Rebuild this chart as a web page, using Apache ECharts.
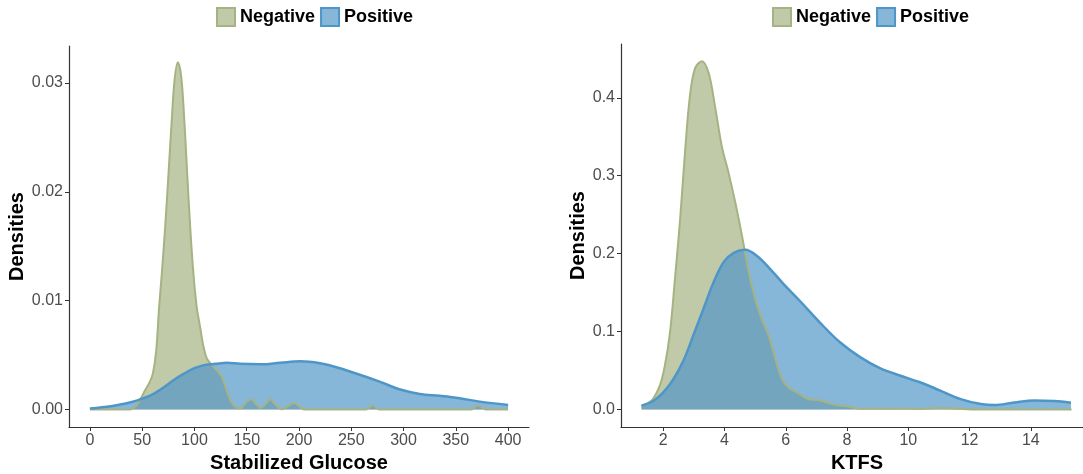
<!DOCTYPE html>
<html>
<head>
<meta charset="utf-8">
<script src="https://cdn.jsdelivr.net/npm/echarts@6/dist/echarts.min.js"></script>
<style>
html,body{margin:0;padding:0;background:#fff;overflow:hidden;}
#chart{width:1083px;height:474px;}
</style>
</head>
<body>
<div id="chart"></div>
<script>
// ---- Data ----
const seriesNames = ['Negative', 'Positive'];

// Left panel: Stabilized Glucose densities
const glucoseNegX = [0,38,44,48,52.9,57,60.2,63.4,66.2,68.8,72,75.2,78.3,80.9,84.1,87.3,90.1,92.7,95.9,99,102.2,105.4,108.6,111.8,116.6,121.3,126.1,131,135.7,143.7,149,154.2,159,163.4,168,172.3,177,183.5,189,195.2,200,205.7,264,270.3,277,364.5,371.2,379,400];
const glucoseNegD = [0,0,0.0003,0.0009,0.0018,0.0025,0.0033,0.0054,0.0094,0.0125,0.0168,0.0217,0.0266,0.0302,0.0319,0.0306,0.0269,0.0223,0.0168,0.0125,0.0094,0.0076,0.0058,0.0047,0.0041,0.0036,0.003,0.0017,0.0006,0.0001,0.0006,0.00095,0.0005,0.00015,0.0005,0.00095,0.0005,0.00003,0.0003,0.0006,0.0003,0,0,0.00037,0,0,0.00037,0,0];
const glucosePosX = [0,20,40,50,60,70,80,90,100,110,120,131,143.6,163,182,201,220,239,258,277,296,315.5,334.6,353.7,372.8,400];
const glucosePosD = [0.0001,0.0003,0.0007,0.001,0.0014,0.002,0.0027,0.0033,0.0038,0.0041,0.0042,0.0043,0.0042,0.00416,0.0043,0.00443,0.00425,0.0038,0.0032,0.00257,0.00187,0.00144,0.00126,0.00104,0.00073,0.00043];

// Right panel: KTFS densities
const ktfsNegX = [1.29,1.5,1.67,1.89,2.05,2.22,2.38,2.55,2.71,2.87,3.04,3.26,3.48,3.69,3.91,4.13,4.35,4.57,4.79,5.0,5.22,5.44,5.66,5.88,6.1,6.37,6.7,7.13,7.56,8.0,8.44,8.87,9.3,9.75,10.4,11.06,11.71,12.37,15.33];
const ktfsNegD = [0.004,0.008,0.014,0.031,0.056,0.099,0.167,0.244,0.33,0.402,0.438,0.447,0.432,0.389,0.338,0.304,0.266,0.223,0.176,0.142,0.116,0.095,0.065,0.039,0.028,0.022,0.014,0.0117,0.0064,0.0043,0.001,0.0015,0.001,0.0015,0.0008,0.002,0.001,0,0];
const ktfsPosX = [1.29,1.67,2.0,2.33,2.66,2.98,3.31,3.64,3.97,4.3,4.68,5.06,5.5,5.93,6.47,7.13,7.78,8.44,9.09,9.75,10.4,11.06,11.71,12.37,12.8,13.46,14.11,14.77,15.31];
const ktfsPosD = [0.005,0.011,0.022,0.039,0.063,0.095,0.129,0.163,0.189,0.201,0.205,0.197,0.18,0.161,0.139,0.111,0.086,0.067,0.0528,0.0434,0.0348,0.0241,0.0135,0.0071,0.0058,0.0092,0.0118,0.0109,0.0088];

// Tick labels
const glucoseTicks = [0,50,100,150,200,250,300,350,400];
const ktfsTicks = [2,4,6,8,10,12,14];
const densityTicksLeft = [0,0.01,0.02,0.03];
const densityTicksRight = [0,0.1,0.2,0.3,0.4];

// Axis titles
const xTitles = ['Stabilized Glucose', 'KTFS'];
const yTitle = 'Densities';

// ---- Styles ----
const FONT = '"Liberation Sans", Arial, Helvetica, sans-serif';
const negLine = '#a5b383', negFill = 'rgba(165,179,131,0.7)';
const posLine = '#4f96c8', posFill = 'rgba(82,151,199,0.7)';
const axisColor = '#333333', labelColor = '#4d4d4d';

function pairs(xs, ys){ return xs.map((x,i)=>[x, ys[i]]); }

function xAxisCfg(gridIndex, min, max, ticks, title){
  return {
    type:'value', gridIndex, min, max,
    axisLine:{show:true, onZero:false, lineStyle:{color:axisColor, width:1.2}},
    axisTick:{show:true, length:4, lineStyle:{color:axisColor, width:1}, customValues:ticks},
    axisLabel:{color:labelColor, fontSize:16, fontFamily:FONT, margin:6, customValues:ticks,
               formatter:v=>String(v)},
    splitLine:{show:false},
    name:title, nameLocation:'middle', nameGap:24,
    nameTextStyle:{color:'#000', fontSize:20, fontWeight:'bold', fontFamily:FONT}
  };
}
function yAxisCfg(gridIndex, min, max, ticks, digits, gap){
  return {
    type:'value', gridIndex, min, max,
    axisLine:{show:true, onZero:false, lineStyle:{color:axisColor, width:1.2}},
    axisTick:{show:true, length:4, lineStyle:{color:axisColor, width:1}, customValues:ticks},
    axisLabel:{color:labelColor, fontSize:16, fontFamily:FONT, margin:6, customValues:ticks,
               formatter:v=>Number(v).toFixed(digits)},
    splitLine:{show:false},
    name:yTitle, nameLocation:'middle', nameGap:gap, nameRotate:90,
    nameTextStyle:{color:'#000', fontSize:20, fontWeight:'bold', fontFamily:FONT}
  };
}
function seriesCfg(name, idx, data, line, fill, w){
  return {
    name, type:'line', xAxisIndex:idx, yAxisIndex:idx, data,
    smooth:0.35, showSymbol:false, symbol:'none',
    lineStyle:{color:line, width:w},
    itemStyle:{color:line},
    areaStyle:{color:fill, opacity:1},
    silent:true
  };
}
function legendCfg(left){
  return {
    left, top:2, orient:'horizontal', icon:'rect', itemWidth:18, itemHeight:18, itemGap:5,
    textStyle:{color:'#000', fontSize:18, fontWeight:'bold', fontFamily:FONT},
    selectedMode:false,
    data:[
      {name:seriesNames[0], itemStyle:{color:negFill, borderColor:negLine, borderWidth:2}},
      {name:seriesNames[1], itemStyle:{color:posFill, borderColor:posLine, borderWidth:2}}
    ]
  };
}

const chart = echarts.init(document.getElementById('chart'), null, {renderer:'canvas'});
chart.setOption({
  animation:false,
  backgroundColor:'#ffffff',
  legend:[legendCfg(211), legendCfg(767)],
  grid:[
    {left:69, right:554, top:46, bottom:47, containLabel:false, outerBoundsMode:'none'},
    {left:621, right:-10, top:44, bottom:47, containLabel:false, outerBoundsMode:'none'}
  ],
  xAxis:[
    xAxisCfg(0, -20, 420, glucoseTicks, xTitles[0]),
    xAxisCfg(1, 0.62, 16.03, ktfsTicks, xTitles[1])
  ],
  yAxis:[
    yAxisCfg(0, -0.0016, 0.0334, densityTicksLeft, 2, 41),
    yAxisCfg(1, -0.0223, 0.469, densityTicksRight, 1, 27)
  ],
  series:[
    seriesCfg(seriesNames[0], 0, pairs(glucoseNegX, glucoseNegD), negLine, negFill, 2),
    seriesCfg(seriesNames[1], 0, pairs(glucosePosX, glucosePosD), posLine, posFill, 2.5),
    seriesCfg(seriesNames[0], 1, pairs(ktfsNegX, ktfsNegD), negLine, negFill, 2),
    seriesCfg(seriesNames[1], 1, pairs(ktfsPosX, ktfsPosD), posLine, posFill, 2.5)
  ]
});
</script>
</body>
</html>
